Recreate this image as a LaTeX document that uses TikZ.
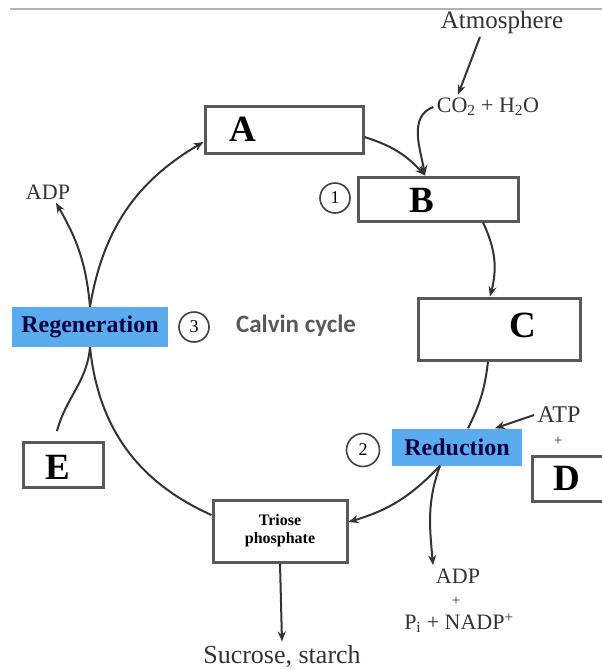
\documentclass[tikz,border=0pt]{standalone}
\usepackage{fontspec}
\setmainfont{Liberation Serif}
\setsansfont{Carlito}
\usetikzlibrary{arrows.meta}
\definecolor{stageblue}{RGB}{90,172,238}
\begin{document}
\begin{tikzpicture}[x=1pt,y=1pt,
    box/.style={draw=black!65, line width=3pt, fill=white, inner sep=0pt},
    bluebox/.style={fill=stageblue, inner sep=0pt, text=black!75!blue,
      font=\fontsize{24}{24}\selectfont\bfseries},
    letter/.style={font=\fontsize{37}{37}\selectfont\bfseries},
    lbl/.style={font=\fontsize{22}{22}\selectfont, text=black!80},
    num/.style={circle, draw=black!75, line width=1.6pt, inner sep=0pt,
      minimum size=30pt, font=\fontsize{18}{18}\selectfont},
    flow/.style={draw=black!80, line width=2pt},
    >={Stealth[length=10pt,width=8pt]}]
  \useasboundingbox (0,0) rectangle (602,-670);
  \draw[black!30, line width=1.2pt] (10,-9) -- (602,-9);

  % boxes of the cycle
  \node[box, minimum width=158pt, minimum height=47pt] (A) at (284,-130) {};
  \node[box, minimum width=160pt, minimum height=44pt] (B) at (438,-199) {};
  \node[box, minimum width=162pt, minimum height=62pt] (C) at (499,-329) {};
  \node[box, minimum width=90pt, minimum height=45pt] (D) at (577,-479) {};
  \node[box, minimum width=80pt, minimum height=45pt] (E) at (63,-465) {};
  \node[box, minimum width=134pt, minimum height=62pt, align=center,
    font=\fontsize{16}{18}\selectfont\bfseries] (triose) at (280,-531) {Triose\\phosphate};
  \node[bluebox, minimum width=156pt, minimum height=40pt] (regen) at (90,-327) {Regeneration};
  \node[bluebox, minimum width=130pt, minimum height=37pt] (red) at (457,-447) {Reduction};

  \node[letter] (Atext) at (243,-129) {A};
  \node[letter] (Btext) at (422,-200) {B};
  \node[letter] (Ctext) at (523,-325) {C};
  \node[letter] (Dtext) at (567,-478) {D};
  \node[letter] (Etext) at (58,-467) {E};

  \node[num] (n1) at (335,-198) {1};
  \node[num, minimum size=33pt] (n2) at (363,-450) {2};
  \node[num] (n3) at (194,-327) {3};

  % labels
  \node[lbl, font=\fontsize{25}{25}\selectfont] (atm) at (502,-22) {Atmosphere};
  \node[lbl] (co2) at (488,-107) {CO\textsubscript{2} + H\textsubscript{2}O};
  \node[lbl] (adpl) at (48,-192) {ADP};
  \node[font=\fontsize{25}{25}\selectfont\sffamily\bfseries, text=black!65] (calvin) at (296,-326) {Calvin cycle};
  \node[lbl, font=\fontsize{24}{24}\selectfont] (atp) at (559,-415) {ATP};
  \node[lbl, font=\fontsize{15}{15}\selectfont] (plus1) at (558,-441) {+};
  \node[lbl] (adpb) at (458,-576) {ADP};
  \node[lbl, font=\fontsize{15}{15}\selectfont] (plus2) at (456,-601) {+};
  \node[lbl] (nadp) at (459,-623) {P\textsubscript{i} + NADP\textsuperscript{+}};
  \node[lbl, font=\fontsize{26}{26}\selectfont] (sugar) at (282,-656) {Sucrose, starch};

  % connectors
  \draw[flow, ->] ([xshift=-22pt]atm.south) -- ([xshift=-30pt]co2.north);
  \draw[flow, ->] (co2.west) to[out=200, in=100] ([xshift=-13pt]B.north);
  \draw[flow, ->] ([yshift=-7pt]A.east) to[bend left=15] ([xshift=-13pt]B.north);
  \draw[flow, ->] ([xshift=45pt]B.south) to[bend left=20] ([xshift=-9pt]C.north);
  \draw[flow] ([xshift=-11pt]C.south) to[bend left=10] ([xshift=11pt]red.north);
  \draw[flow, ->] ([xshift=-17pt]red.south) to[bend left=15] ([yshift=9pt]triose.east);
  \draw[flow, ->] ([xshift=-17pt]red.south) to[out=250, in=95] ([xshift=-25pt]adpb.north);
  \draw[flow, ->] (atp.west) -- ([xshift=38pt]red.north);
  \draw[flow, ->] (triose.south) -- (sugar.north);
  \draw[flow] ([yshift=16pt]triose.west) to[bend left=30] (regen.south);
  \draw[flow] ([shift={(-6pt,10pt)}]E.north) to[out=75, in=-95] (regen.south);
  \draw[flow, ->] (regen.north) to[bend left=25] ([yshift=-12pt]A.west);
  \draw[flow, ->] (regen.north) to[out=95, in=-60] ([xshift=8pt]adpl.south);
\end{tikzpicture}
\end{document}
